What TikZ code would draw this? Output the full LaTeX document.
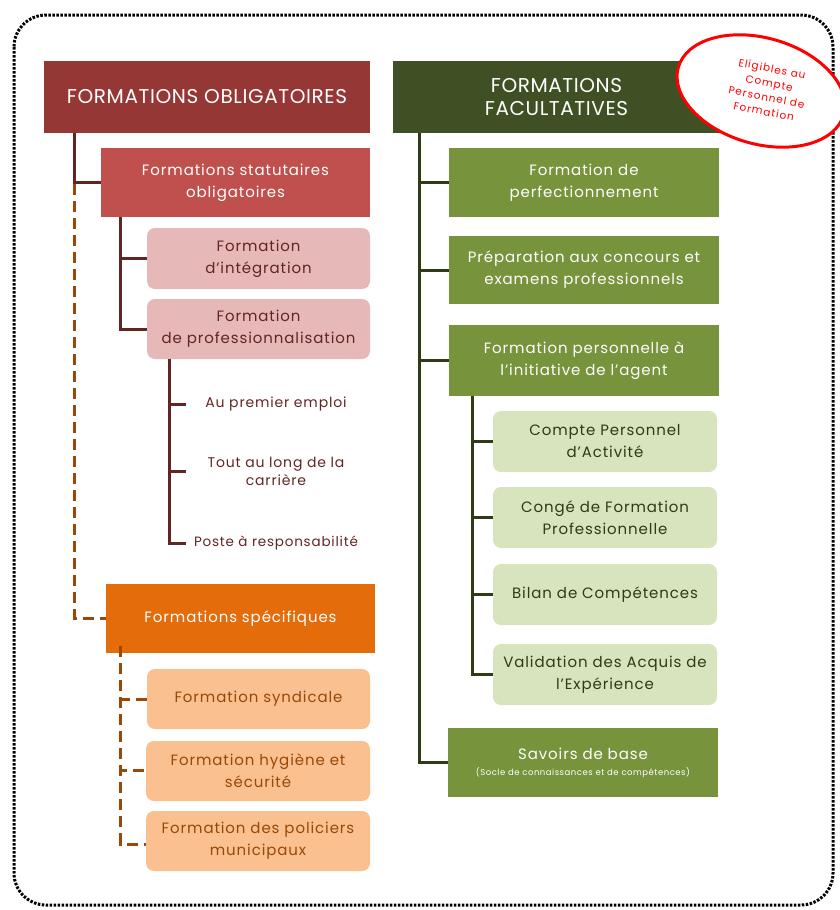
\documentclass[tikz,border=0pt]{standalone}
\usepackage{fontspec}
\setmainfont[LetterSpace=6]{Poppins}
\newfontfamily\titrefont[LetterSpace=3]{Poppins}
\newfontfamily\cpffont[LetterSpace=9]{Poppins}
\usetikzlibrary{shapes.geometric}
\definecolor{rougefonce}{HTML}{953735}
\definecolor{rougemoyen}{HTML}{C0504D}
\definecolor{rose}{HTML}{E6B9B8}
\definecolor{bordeaux}{HTML}{632523}
\definecolor{orange}{HTML}{E46C0A}
\definecolor{peche}{HTML}{FAC090}
\definecolor{brun}{HTML}{984807}
\definecolor{olive}{HTML}{3F5024}
\definecolor{vert}{HTML}{77933C}
\definecolor{vertclair}{HTML}{D7E4BD}
\definecolor{vertfonce}{HTML}{2F3A17}
\begin{document}
\begin{tikzpicture}[x=1pt,y=-1pt,
	boite/.style={align=center,inner sep=2pt,font=\fontsize{15}{22}\selectfont},
	titre/.style={boite,fill=#1,text=white,minimum height=72pt,font=\titrefont\fontsize{20}{23}\selectfont},
	plein/.style={boite,fill=#1,text=white,minimum width=270pt,minimum height=69pt},
	arrondi/.style={boite,fill=#1,rounded corners=8pt,minimum width=223pt,minimum height=61pt},
	etiq/.style={boite,text=bordeaux,minimum width=180pt,font=\fontsize{14}{18}\selectfont},
	lienR/.style={bordeaux,line width=3pt},
	lienV/.style={vertfonce,line width=3pt},
	tiret/.style={brun,line width=3pt,dash pattern=on 11pt off 6pt}]
\useasboundingbox (0,0) rectangle (840,910);
\clip (0,0) rectangle (840,910);
\draw[line width=3pt,dash pattern=on 2.5pt off 1.5pt,rounded corners=32pt] (14,15) rectangle (833,905);
% formations obligatoires
\node[titre=rougefonce,minimum width=326pt] (oblig) at (207,97) {FORMATIONS OBLIGATOIRES};
\node[plein=rougemoyen,minimum width=269pt] (stat) at (235.5,182.5) {Formations statutaires\\obligatoires};
\node[arrondi=rose,text=bordeaux] (integ) at (258.5,258.5) {Formation\\d’intégration};
\node[arrondi=rose,text=bordeaux,minimum height=60pt] (prof) at (258.5,329) {Formation\\de professionnalisation};
\node[etiq] (emploi) at (276,404) {Au premier emploi};
\node[etiq] (carriere) at (276,471) {Tout au long de la\\carrière};
\node[etiq,font=\fontsize{13.5}{18}\selectfont] (poste) at (276,543) {Poste à responsabilité};
\node[plein=orange,minimum width=269pt] (spec) at (240.5,618.5) {Formations spécifiques};
\node[arrondi=peche,text=brun,minimum height=60pt] (synd) at (258.5,699) {Formation syndicale};
\node[arrondi=peche,text=brun,minimum width=224pt,minimum height=60pt] (hyg) at (258,771) {Formation hygiène et\\sécurité};
\node[arrondi=peche,text=brun,minimum width=224pt,minimum height=60pt] (pol) at (258,841) {Formation des policiers\\municipaux};
\draw[tiret] (oblig.south west) ++(31,0) |- (spec.west);
\draw[lienR] (oblig.south west) ++(31,0) |- (stat.west);
\draw[lienR] (stat.south west) ++(20,0) |- (integ.west);
\draw[lienR] (stat.south west) ++(20,0) |- (prof.west);
\draw[lienR] (prof.south west) ++(23,0) |- (emploi.west);
\draw[lienR] (prof.south west) ++(23,0) |- (carriere.west);
\draw[lienR] (prof.south west) ++(23,0) |- (poste.west);
\draw[tiret] ([yshift=7pt]spec.south west) ++(15,0) |- (synd.west);
\draw[tiret] ([yshift=7pt]spec.south west) ++(15,0) |- ([yshift=1pt]hyg.west);
\draw[tiret] ([yshift=7pt]spec.south west) ++(15,0) |- ([yshift=-3pt]pol.west);
% formations facultatives
\node[titre=olive,minimum width=327pt] (facult) at (556.5,97) {FORMATIONS\\FACULTATIVES};
\node[plein=vert] (perf) at (584,182.5) {Formation de\\perfectionnement};
\node[plein=vert,minimum height=68pt] (prep) at (584,270) {Préparation aux concours et\\examens professionnels};
\node[plein=vert,minimum height=71pt] (perso) at (584,360.5) {Formation personnelle à\\l’initiative de l’agent};
\node[arrondi=vertclair,text=vertfonce,minimum width=224pt] (cpa) at (605,441.5) {Compte Personnel\\d’Activité};
\node[arrondi=vertclair,text=vertfonce,minimum width=224pt] (cfp) at (605,517.5) {Congé de Formation\\Professionnelle};
\node[arrondi=vertclair,text=vertfonce,minimum width=224pt] (bilan) at (605,594.5) {Bilan de Compétences};
\node[arrondi=vertclair,text=vertfonce,minimum width=224pt] (vae) at (605,674.5) {Validation des Acquis de\\l’Expérience};
\node[plein=vert] (savoirs) at (583,762.5) {Savoirs de base\\[-6pt]{\fontsize{8.5}{10}\selectfont (Socle de connaissances et de compétences)}};
\draw[lienV] (facult.south west) ++(27,0) |- (perf.west);
\draw[lienV] (facult.south west) ++(27,0) |- (prep.west);
\draw[lienV] (facult.south west) ++(27,0) |- (perso.west);
\draw[lienV] (facult.south west) ++(27,0) |- (savoirs.west);
\draw[lienV] (perso.south west) ++(24,0) |- (cpa.west);
\draw[lienV] (perso.south west) ++(24,0) |- (cfp.west);
\draw[lienV] (perso.south west) ++(24,0) |- (bilan.west);
\draw[lienV] (perso.south west) ++(24,0) |- (vae.west);
% pastille CPF
\node[ellipse,draw=red,line width=3pt,fill=white,minimum width=172pt,minimum height=106pt,rotate=-16] (cpf) at (761,91) {};
\node[text=red,align=center,rotate=-11,font=\cpffont\fontsize{10.5}{14.5}\selectfont] (cpftxt) at (768,90) {Eligibles au\\Compte\\Personnel de\\Formation};
\end{tikzpicture}
\end{document}
